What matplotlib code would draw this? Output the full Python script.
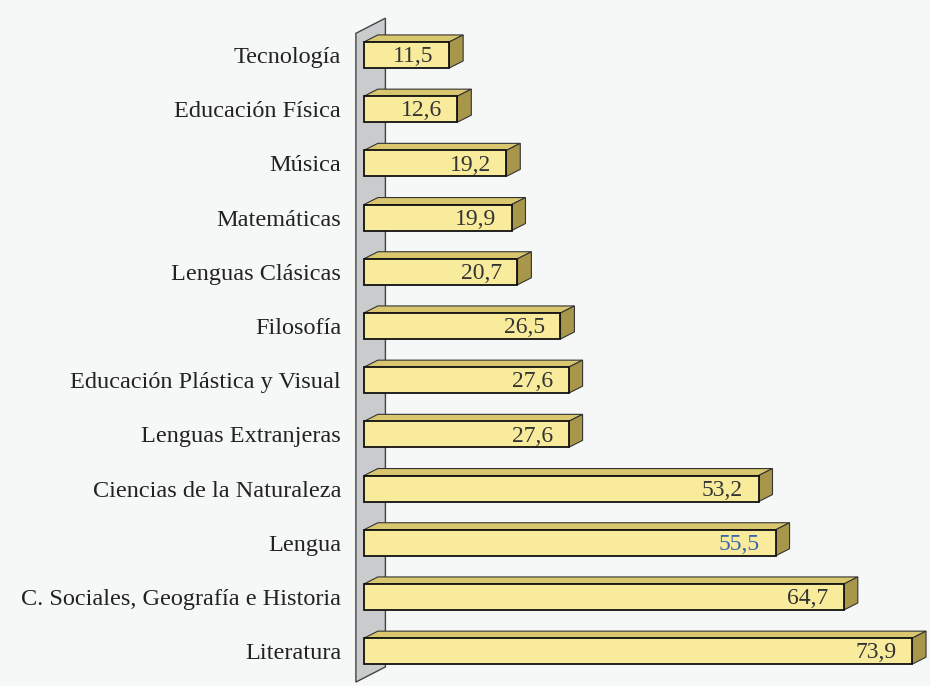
import matplotlib.pyplot as plt
from matplotlib.patches import Polygon

# data (top to bottom)
materias = ["Tecnología", "Educación Física", "Música", "Matemáticas",
            "Lenguas Clásicas", "Filosofía", "Educación Plástica y Visual",
            "Lenguas Extranjeras", "Ciencias de la Naturaleza", "Lengua",
            "C. Sociales, Geografía e Historia", "Literatura"]
valores = [11.5, 12.6, 19.2, 19.9, 20.7, 26.5, 27.6, 27.6, 53.2, 55.5,
           64.7, 73.9]
etiquetas = ["11,5", "12,6", "19,2", "19,9", "20,7", "26,5", "27,6", "27,6",
             "53,2", "55,5", "64,7", "73,9"]


def main():
    fig = plt.figure(figsize=(9.3, 6.86), dpi=100, facecolor="#f6f7f7")
    ax = fig.add_axes([355 / 930, 0, 1 - 355 / 930, 1])
    ax.set_facecolor("#f6f7f7")

    n = len(valores)
    ypos = list(range(n))
    h = 0.48      # bar height
    dx = 1.88     # depth in x (data units)
    dy = 0.13     # depth in y (data units)

    # gray wall on the left
    wall = Polygon([(-1.08, -0.40), (2.9, -0.68), (2.9, 11.29),
                    (-1.08, 11.57)], closed=True, facecolor="#c9cbcd",
                   edgecolor="#444444", linewidth=1.0, zorder=1)
    ax.add_patch(wall)

    # front faces
    ax.barh(ypos, valores, height=h, color="#f8ec9c", edgecolor="#111111",
            linewidth=1.3, zorder=4)

    # top and side faces for the 3D look
    for y, v in zip(ypos, valores):
        top = y - h / 2
        bot = y + h / 2
        ax.add_patch(Polygon([(0, top), (v, top), (v + dx, top - dy),
                              (dx, top - dy)], closed=True,
                             facecolor="#d8c76e", edgecolor="#333333",
                             linewidth=0.8, zorder=3))
        ax.add_patch(Polygon([(v, top), (v + dx, top - dy),
                              (v + dx, bot - dy), (v, bot)], closed=True,
                             facecolor="#a8974a", edgecolor="#333333",
                             linewidth=0.8, zorder=3))

    # value labels
    for y, v, t in zip(ypos, valores, etiquetas):
        color = "#3a64b0" if t == "55,5" else "#333333"
        ax.text(v - 2.1, y + 0.03, t, ha="right", va="center", fontsize=17,
                color=color, family="Liberation Serif", zorder=5)

    ax.set_xlim(-1.2, (930 - 363) / 7.43)
    ax.set_ylim((686 - 55) / 54.2, -55 / 54.2)
    ax.set_yticks(ypos)
    ax.set_yticklabels(materias, family="Liberation Serif", fontsize=17.5,
                       color="#222222")
    ax.tick_params(axis="y", length=0, pad=10)
    ax.set_xticks([])
    for s in ax.spines.values():
        s.set_visible(False)

    fig.savefig("out.png", dpi=100, facecolor=fig.get_facecolor())


if __name__ == "__main__":
    main()
